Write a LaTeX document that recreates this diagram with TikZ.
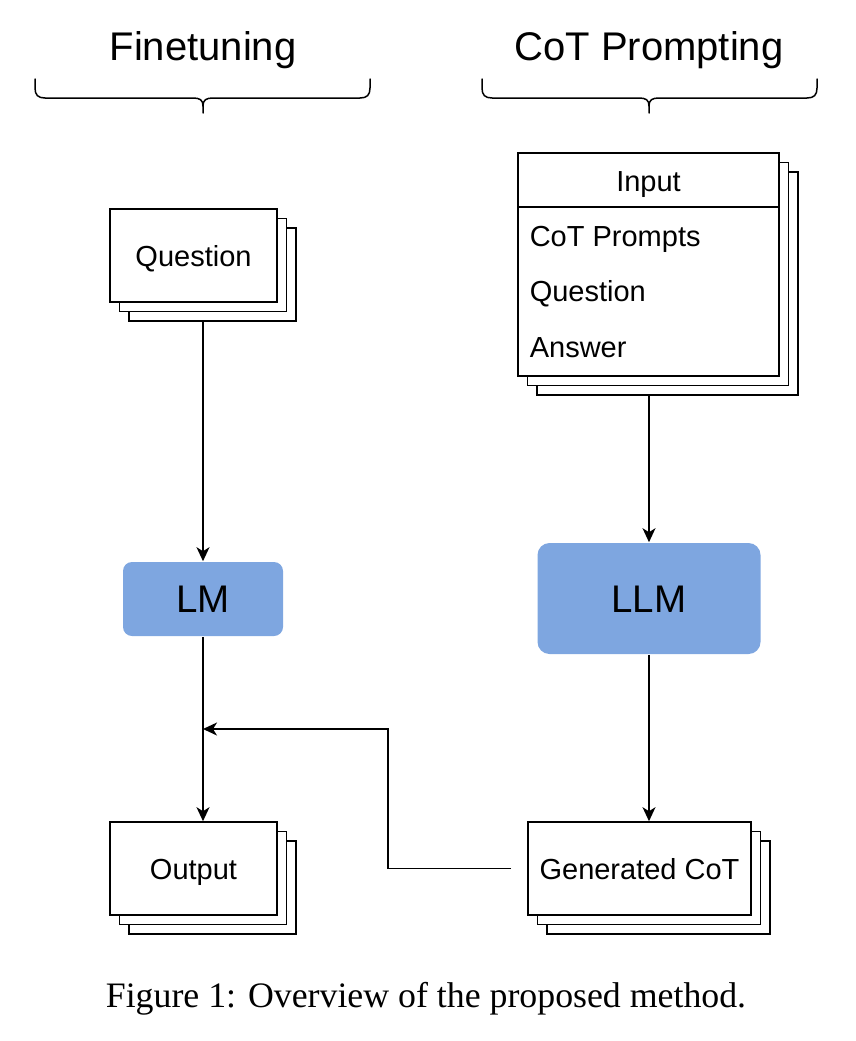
\documentclass[tikz,border=0pt]{standalone}
\usepackage{fontspec}
\setmainfont{Liberation Sans}
\newfontfamily\capfont{Liberation Serif}
\usetikzlibrary{shadows,arrows.meta}
\definecolor{lmblue}{HTML}{7EA6E0}
\begin{document}
\begin{tikzpicture}[x=1pt,y=-1pt,
  line width=1.6pt,
  doc/.style={draw, fill=white, inner sep=0pt,
    font=\fontsize{29}{34}\selectfont, text height=21pt, text depth=0pt,
    general shadow={shadow xshift=19pt, shadow yshift=-19pt, draw, fill=white},
    general shadow={shadow xshift=9.5pt, shadow yshift=-9.5pt, draw, fill=white}},
  model/.style={fill=lmblue, inner sep=0pt, font=\fontsize{38.5}{44}\selectfont,
    text height=27.5pt, text depth=0pt},
  title/.style={anchor=base, inner sep=0pt, font=\fontsize{40}{46}\selectfont},
  row/.style={anchor=base west, inner sep=0pt, font=\fontsize{29}{34}\selectfont},
  arr/.style={-{Stealth[length=14pt,width=13pt,inset=4pt]}, line width=1.6pt},
  brace/.style={line width=1.5pt, line cap=round, line join=round}
]
\useasboundingbox (0,0) rectangle (856,1041);

% column titles and braces
\node[title] (ft) at (203,60) {Finetuning};
\node[title] (cp) at (649,60) {CoT Prompting};
\draw[brace] (35,79) -- (35,88) .. controls (35,95) and (38,98) .. (45,98) -- (193,98)
  .. controls (200,98) and (203,100) .. (203,106) -- (203,113);
\draw[brace] (203,106) .. controls (203,100) and (206,98) .. (213,98) -- (360,98)
  .. controls (367,98) and (370,95) .. (370,88) -- (370,79);
\draw[brace] (482,79) -- (482,88) .. controls (482,95) and (485,98) .. (492,98) -- (639,98)
  .. controls (646,98) and (649,100) .. (649,106) -- (649,113);
\draw[brace] (649,106) .. controls (649,100) and (652,98) .. (659,98) -- (807,98)
  .. controls (814,98) and (817,95) .. (817,88) -- (817,79);

% finetuning column
\node[doc, minimum width=167pt, minimum height=93pt] (q) at (193.5,255.5) {Question};
\node[model, rounded corners=9pt, minimum width=160pt, minimum height=74pt] (lm) at (203,599) {LM};
\node[doc, minimum width=167pt, minimum height=93pt] (out) at (193.5,868.5) {Output};

% CoT prompting column
\node[doc, minimum width=261pt, minimum height=223pt] (inp) at (648.5,264.5) {};
\draw ([yshift=-55pt]inp.north west) -- ([yshift=-55pt]inp.north east);
\node[inner sep=0pt, font=\fontsize{29}{34}\selectfont, text height=21pt, text depth=0pt]
  (inhead) at (648.5,180.5) {Input};
\node[row] (r1) at (529,246) {CoT Prompts};
\node[row] (r2) at (529,301.5) {Question};
\node[row] (r3) at (529,357) {Answer};
\node[model, rounded corners=12pt, minimum width=223pt, minimum height=111pt] (llm) at (649,598.5) {LLM};
\node[doc, minimum width=223pt, minimum height=93pt] (gen) at (639.5,868.5) {Generated CoT};

% connectors
\coordinate (merge) at (203,729);
\coordinate (bend) at (388,729);
\draw[arr] ([xshift=9.5pt,yshift=-19pt]q.south) -- (lm.north);
\draw[arr] (lm.south) -- ([xshift=9.5pt]out.north);
\draw[arr] ([xshift=0.5pt,yshift=-19pt]inp.south) -- (llm.north);
\draw[arr] (llm.south) -- ([xshift=9.5pt]gen.north);
\draw[arr] ([xshift=-16pt]gen.west) -| (bend) -- (merge);

% caption
\node[anchor=base, inner sep=0pt, font=\capfont\fontsize{35.8}{42}\selectfont] (cap) at (426,1007)
  {Figure 1: Overview of the proposed method.};
\end{tikzpicture}
\end{document}
